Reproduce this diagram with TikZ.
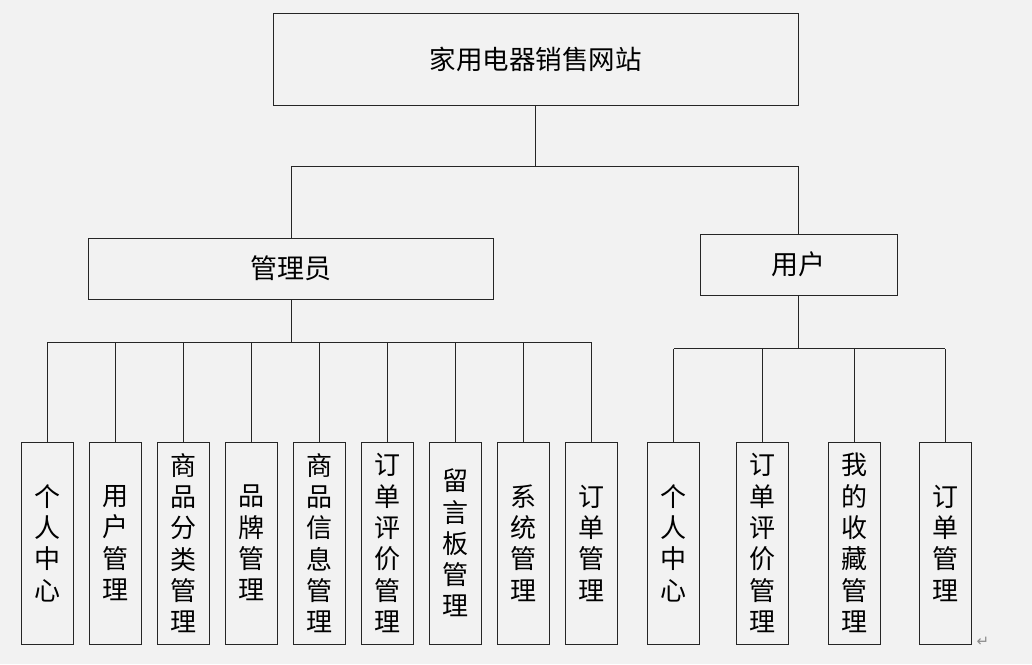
\documentclass[tikz,border=0pt]{standalone}
\usepackage{fontspec}
\newfontfamily\cjk{Noto Sans CJK SC}
\newfontfamily\dvs{DejaVu Sans}
\definecolor{bg}{HTML}{F2F2F2}
\definecolor{ln}{HTML}{262626}
\begin{document}
\begin{tikzpicture}[x=1pt,y=-1pt,
  box/.style={draw=ln, line width=1pt, fill=bg, inner sep=0pt, text=black},
  leaf/.style={box, minimum width=52pt, minimum height=202pt, align=center,
    font=\cjk\fontsize{26}{31.3}\selectfont},
  conn/.style={draw=ln, line width=1pt}]
\fill[bg] (0,0) rectangle (1032,664);
\useasboundingbox (0,0) rectangle (1032,664);

\node[box, minimum width=525pt, minimum height=92pt, font=\cjk\fontsize{26.5}{30}\selectfont] (root) at (535.5,59) {家用电器销售网站};
\node[box, minimum width=405pt, minimum height=61pt, font=\cjk\fontsize{27}{30}\selectfont] (admin) at (291,268.5) {管理员};
\node[box, minimum width=197pt, minimum height=61pt, font=\cjk\fontsize{27}{30}\selectfont] (user) at (798.5,264.5) {用户};

\node[leaf] (a1) at (47.3,543) {个\\人\\中\\心};
\node[leaf] (a2) at (115,543) {用\\户\\管\\理};
\node[leaf] (a3) at (183,543) {商\\品\\分\\类\\管\\理};
\node[leaf] (a4) at (251,543) {品\\牌\\管\\理};
\node[leaf] (a5) at (319,543) {商\\品\\信\\息\\管\\理};
\node[leaf] (a6) at (387,543) {订\\单\\评\\价\\管\\理};
\node[leaf] (a7) at (455,543) {留\\言\\板\\管\\理};
\node[leaf] (a8) at (523,543) {系\\统\\管\\理};
\node[leaf] (a9) at (591,543) {订\\单\\管\\理};

\node[leaf] (u1) at (673.7,543) {个\\人\\中\\心};
\node[leaf] (u2) at (762.5,543) {订\\单\\评\\价\\管\\理};
\node[leaf] (u3) at (854,543) {我\\的\\收\\藏\\管\\理};
\node[leaf] (u4) at (945,543) {订\\单\\管\\理};

\coordinate (busT) at (0,166);
\coordinate (busA) at (0,342);
\coordinate (busU) at (0,348.5);

\draw[conn] (root.south) -- (root.south |- busT);
\draw[conn] (admin.north) |- (user.north |- busT) -- (user.north);

\draw[conn] (admin.south) -- (admin.south |- busA);
\draw[conn] (a1.north |- busA) -- (a9.north |- busA);
\foreach \n in {a1,a2,a3,a4,a5,a6,a7,a8,a9}
  \draw[conn] (\n.north) -- (\n.north |- busA);

\draw[conn] (user.south) -- (user.south |- busU);
\draw[conn] (u1.north |- busU) -- (u4.north |- busU);
\foreach \n in {u1,u2,u3,u4}
  \draw[conn] (\n.north) -- (\n.north |- busU);

\node[text=black!45, font=\dvs\fontsize{15}{16}\selectfont, inner sep=0pt] (mark) at (983,642) {↵};
\end{tikzpicture}
\end{document}
